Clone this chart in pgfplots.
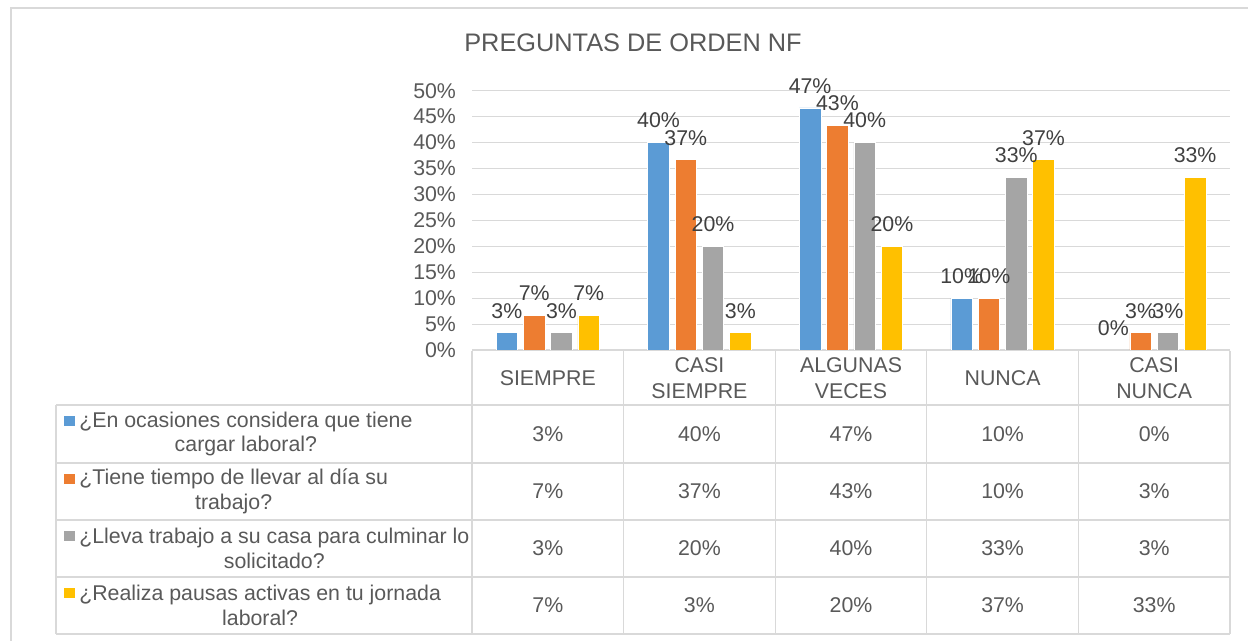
\documentclass[border=0pt]{standalone}
\usepackage{pgfplots}
\pgfplotsset{compat=1.18}
\usepackage{fontspec}
\setmainfont{Liberation Sans}
\definecolor{cblue}{HTML}{5B9BD5}
\definecolor{corange}{HTML}{ED7D31}
\definecolor{cgray}{HTML}{A5A5A5}
\definecolor{cyellow}{HTML}{FFC000}
\definecolor{ctxt}{HTML}{595959}
\definecolor{clbl}{HTML}{404040}
\definecolor{cgrid}{HTML}{D9D9D9}
\begin{document}
\begin{tikzpicture}
\begin{scope}[x=0.75pt,y=-0.75pt]
\path[use as bounding box] (0,0) rectangle (1248,641);
\draw[cgrid, line width=0.8pt] (11,641) -- (11,8) -- (1248,8);
\node[ctxt, font=\fontsize{19}{23}\selectfont, anchor=base, inner sep=0] at (633,51.7) {PREGUNTAS DE ORDEN NF};
\end{scope}
\begin{axis}[
  at={(354pt,-262.5pt)}, anchor=south west,
  width=568.5pt, height=194.5pt, scale only axis,
  xmin=-0.5, xmax=4.5, ymin=0, ymax=50,
  axis line style={draw=none},
  ymajorgrids, grid style={cgrid, line width=0.8pt},
  major tick length=0,
  ytick={0,5,...,50},
  yticklabels={0\%,5\%,10\%,15\%,20\%,25\%,30\%,35\%,40\%,45\%,50\%},
  yticklabel style={ctxt, font=\fontsize{16}{19}\selectfont, xshift=-8.5pt},
  xtick={0,1,2,3,4},
  xticklabels={SIEMPRE,{CASI\\SIEMPRE},{ALGUNAS\\VECES},NUNCA,{CASI\\NUNCA}},
  xticklabel style={ctxt, font=\fontsize{16}{19}\selectfont, align=center, anchor=center, yshift=-21pt, inner sep=0},
  /pgf/number format/assume math mode=true,
  ybar=4.35pt, bar width=16.1pt,
  clip=false,
  nodes near coords={\pgfmathprintnumber[fixed,precision=0]{\pgfplotspointmeta}\%},
  every node near coord/.append style={clbl, font=\fontsize{16}{19}\selectfont, yshift=7.3pt},
]
\addplot[fill=cblue, draw=white, line width=0.5pt] coordinates {(0,3.33) (1,40) (2,46.67) (3,10) (4,0)};
\addplot[fill=corange, draw=white, line width=0.5pt] coordinates {(0,6.67) (1,36.67) (2,43.33) (3,10) (4,3.33)};
\addplot[fill=cgray, draw=white, line width=0.5pt] coordinates {(0,3.33) (1,20) (2,40) (3,33.33) (4,3.33)};
\addplot[fill=cyellow, draw=white, line width=0.5pt] coordinates {(0,6.67) (1,3.33) (2,20) (3,36.67) (4,33.33)};
\end{axis}
\begin{scope}[x=0.75pt,y=-0.75pt]
% table lines
\draw[cgrid, line width=0.9pt] (472,350.5) -- (1230,350.5);
\foreach \yy in {405,463,520,577,634} \draw[cgrid, line width=0.9pt] (56,\yy) -- (1230,\yy);
\foreach \xx in {472,623.6,775.2,926.8,1078.4,1230} \draw[cgrid, line width=0.9pt] (\xx,350.5) -- (\xx,634);
\draw[cgrid, line width=0.9pt] (56,405) -- (56,634);
% legend markers
\fill[cblue] (64,416) rectangle (75,426);
\fill[corange] (64,474) rectangle (75,484);
\fill[cgray] (64,531) rectangle (75,541);
\fill[cyellow] (64,588) rectangle (75,598);
% legend texts
\begin{scope}[every node/.style={ctxt, font=\fontsize{16}{18.5}\selectfont, align=center, anchor=west, inner sep=0}]
\node at (79,434) {¿En ocasiones considera que tiene\\cargar laboral?};
\node at (79,491.5) {¿Tiene tiempo de llevar al día su\\trabajo?};
\node at (79,548.5) {¿Lleva trabajo a su casa para culminar lo\\solicitado?};
\node at (79,605.5) {¿Realiza pausas activas en tu jornada\\laboral?};
\end{scope}
% table values
\begin{scope}[every node/.style={ctxt, font=\fontsize{16}{19}\selectfont, inner sep=0}]
\foreach \v [count=\i from 0] in {3\%,40\%,47\%,10\%,0\%} \node at (547.8+151.6*\i,434) {\v};
\foreach \v [count=\i from 0] in {7\%,37\%,43\%,10\%,3\%} \node at (547.8+151.6*\i,491.5) {\v};
\foreach \v [count=\i from 0] in {3\%,20\%,40\%,33\%,3\%} \node at (547.8+151.6*\i,548.5) {\v};
\foreach \v [count=\i from 0] in {7\%,3\%,20\%,37\%,33\%} \node at (547.8+151.6*\i,605.5) {\v};
\end{scope}
\end{scope}
\end{tikzpicture}
\end{document}
